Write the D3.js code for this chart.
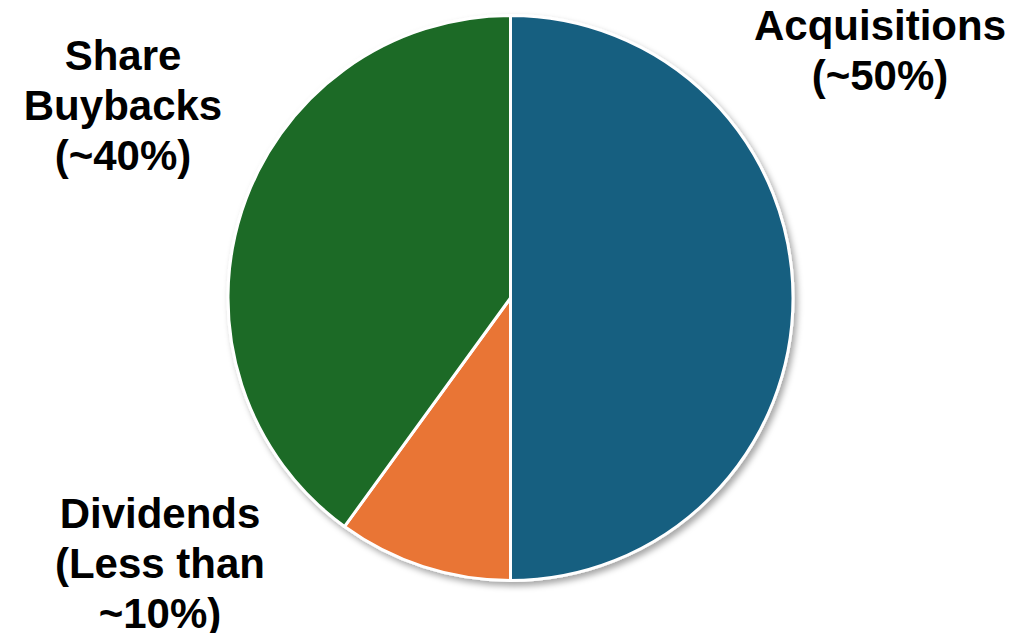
<!DOCTYPE html>
<html>
<head>
<meta charset="utf-8">
<script src="https://cdn.jsdelivr.net/npm/d3@7"></script>
<style>
  html, body { margin: 0; padding: 0; background: #fff; }
  svg { display: block; }
  .lbl { font-family: "Liberation Sans", Arial, sans-serif; font-weight: bold; fill: #000; }
</style>
</head>
<body>
<script>
// Uses of cash, approximate shares
const categories = ["Acquisitions", "Dividends", "Share Buybacks"];
const shares = [50, 10, 40];
const colors = ["#175E80", "#E97434", "#1B6A25"];
const labelLines = [
  ["Acquisitions", "(~50%)"],
  ["Dividends", "(Less than", "~10%)"],
  ["Share", "Buybacks", "(~40%)"]
];
// label anchor: centre x and first baseline y
const labelAnchors = [[880, 40], [160, 528], [123, 70]];

const W = 1022, H = 633;
const cx = 510.5, cy = 298, R = 282.5;

const svg = d3.select("body").append("svg")
  .attr("width", W).attr("height", H);

const defs = svg.append("defs");
const f = defs.append("filter").attr("id", "shadow")
  .attr("x", "-10%").attr("y", "-10%").attr("width", "120%").attr("height", "120%");
f.append("feDropShadow")
  .attr("dx", 3).attr("dy", 4).attr("stdDeviation", 3)
  .attr("flood-color", "#000").attr("flood-opacity", 0.35);

const pie = d3.pie().sort(null).value(d => d.v);
const arc = d3.arc().innerRadius(0).outerRadius(R);

const data = categories.map((c, i) => ({ c, v: shares[i], col: colors[i] }));

const g = svg.append("g")
  .attr("transform", `translate(${cx},${cy})`)
  .attr("filter", "url(#shadow)");

g.selectAll("path")
  .data(pie(data))
  .join("path")
  .attr("d", arc)
  .attr("fill", d => d.data.col)
  .attr("stroke", "#fff")
  .attr("stroke-width", 3)
  .attr("stroke-linejoin", "round");

const lineH = 50;
labelLines.forEach((lines, i) => {
  const [x, y] = labelAnchors[i];
  const t = svg.append("text").attr("class", "lbl")
    .attr("text-anchor", "middle")
    .attr("font-size", 42);
  lines.forEach((s, j) => {
    t.append("tspan").attr("x", x).attr("y", y + j * lineH).text(s);
  });
});
</script>
</body>
</html>
